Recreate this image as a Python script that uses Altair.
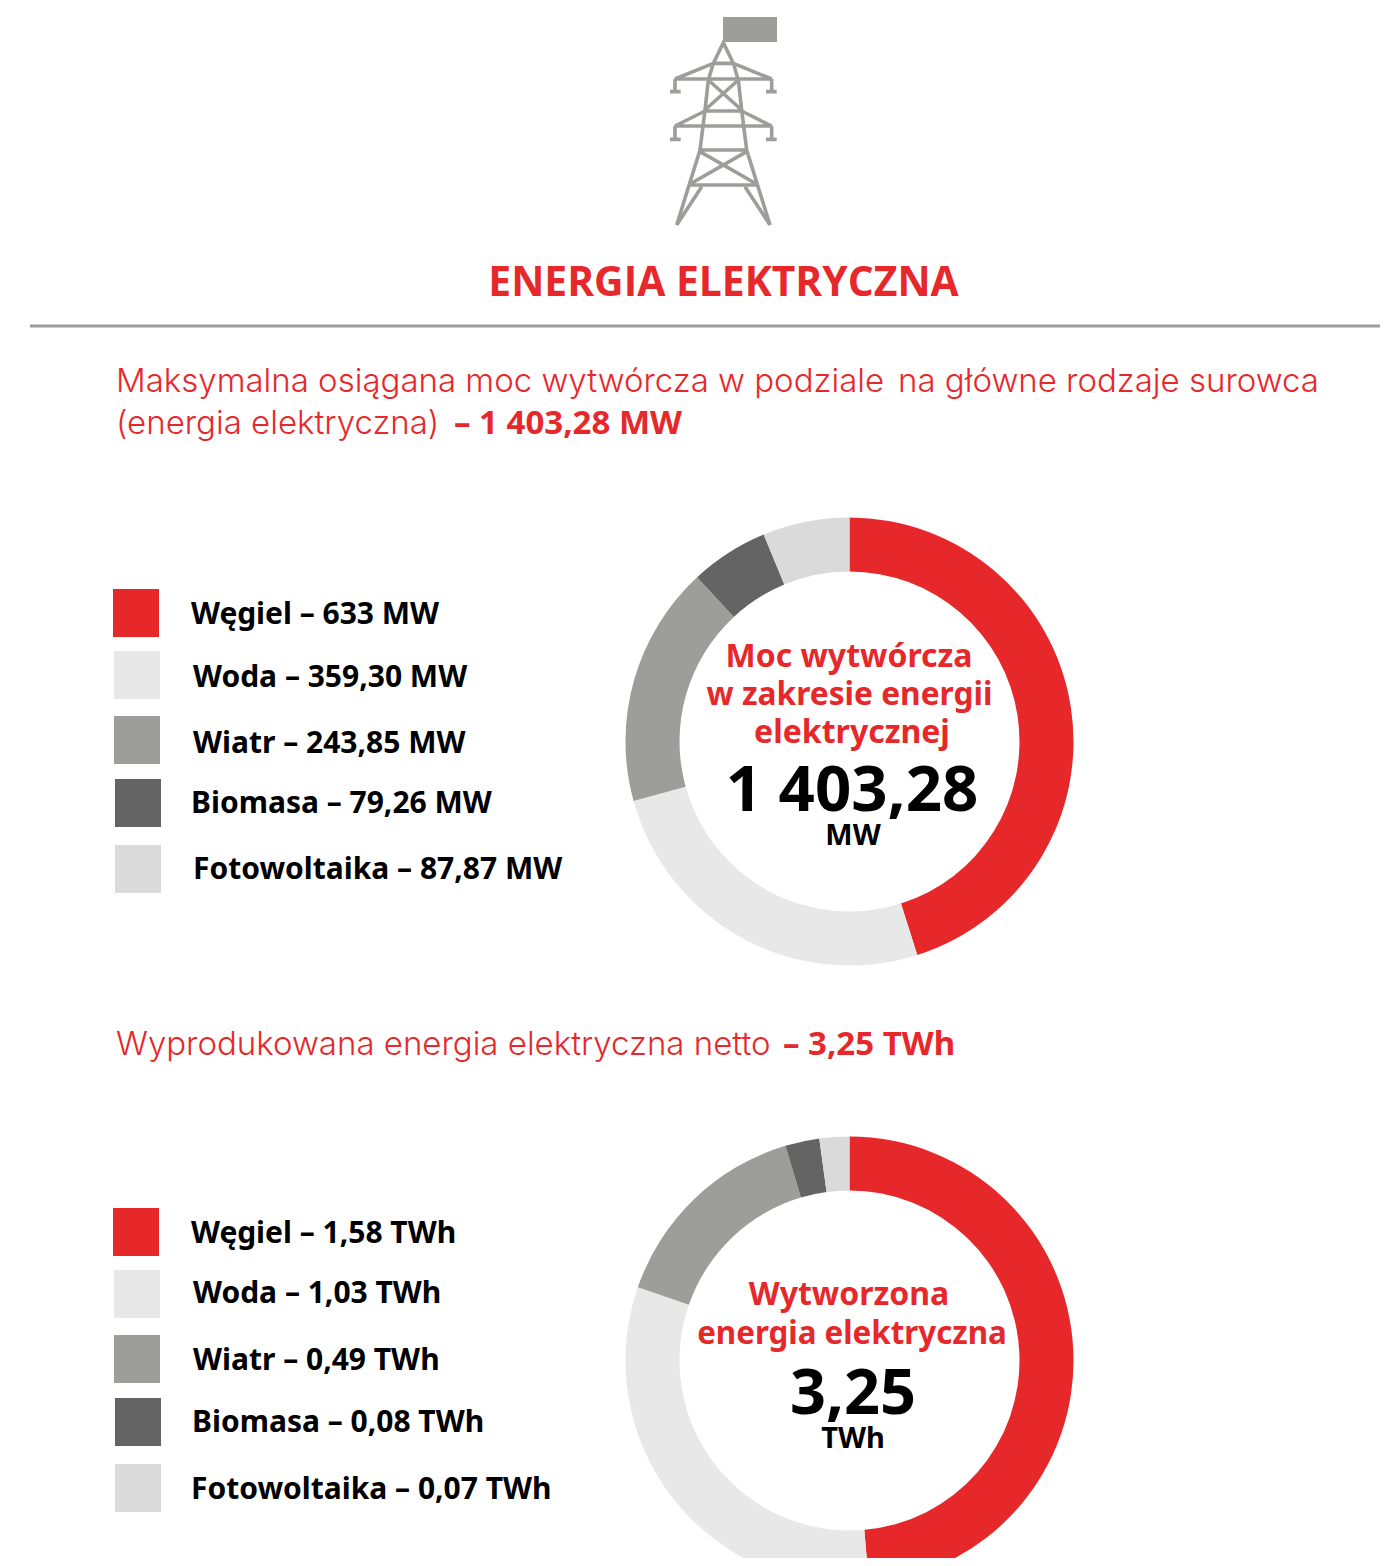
import altair as alt
import pandas as pd

# ---- data ----
categories = ["Węgiel", "Woda", "Wiatr", "Biomasa", "Fotowoltaika"]
moc_values = [633, 359.30, 243.85, 79.26, 87.87]
moc_labels = ["633 MW", "359,30 MW", "243,85 MW", "79,26 MW", "87,87 MW"]
energia_values = [1.58, 1.03, 0.49, 0.08, 0.07]
energia_labels = ["1,58 TWh", "1,03 TWh", "0,49 TWh", "0,08 TWh", "0,07 TWh"]
colors = ["#E6282B", "#E8E8E8", "#9D9D9C", "#646464", "#DADADA"]

RED = "#E6282B"
GREY = "#9D9D9C"
OFF = 8  # page margin


def px(v):
    return alt.value(v - OFF)


def text(t, x, y, size, color="#000000", font="Noto Sans", weight="bold", align="left"):
    return (
        alt.Chart(pd.DataFrame({"t": [t]}))
        .mark_text(font=font, fontSize=size, fontWeight=weight, color=color, align=align, baseline="alphabetic")
        .encode(text="t:N", x=px(x), y=px(y))
    )


def rect(x, x2, y, y2, color):
    return (
        alt.Chart(pd.DataFrame({"c": [color]}))
        .mark_rect(color=color)
        .encode(x=px(x), x2=px(x2), y=px(y), y2=px(y2))
    )


def donut(values, cx, cy):
    df = pd.DataFrame({"cat": categories, "v": values, "i": list(range(len(values)))})
    return (
        alt.Chart(df)
        .mark_arc(innerRadius=170, outerRadius=224)
        .encode(
            theta=alt.Theta("v:Q", stack=True, scale=alt.Scale(domain=[0, sum(values)])),
            order=alt.Order("i:O"),
            color=alt.Color("cat:N", scale=alt.Scale(domain=categories, range=colors), legend=None),
            x=px(cx),
            y=px(cy),
        )
    )


# ---- pylon icon, drawn as one stroked symbol ----
pylon_lines = [
    [(80, 645), (150, 420), (165, 300), (175, 210), (190, 160), (220, 98), (250, 160), (265, 210), (275, 300), (290, 420), (360, 645)],
    [(190, 160), (250, 160)],
    [(190, 160), (75, 207), (365, 207), (250, 160)],
    [(75, 207), (75, 245)], [(60, 245), (92, 245)],
    [(365, 207), (365, 245)], [(348, 245), (380, 245)],
    [(175, 210), (275, 300)], [(265, 210), (165, 300)],
    [(165, 303), (275, 303)],
    [(165, 303), (75, 348), (365, 348), (275, 303)],
    [(75, 348), (75, 388)], [(60, 388), (92, 388)],
    [(365, 348), (365, 388)], [(348, 388), (380, 388)],
    [(150, 420), (290, 420)],
    [(150, 425), (325, 525)], [(290, 425), (115, 525)],
    [(115, 525), (325, 525)],
    [(155, 530), (80, 645)], [(285, 530), (360, 645)],
]
CX, CY, S = 723.5, 120.0, 120.0


def to_path(lines):
    parts = []
    for line in lines:
        pts = [((650 + a / 3 - CX) / S, (10 + b / 3 - CY) / S) for a, b in line]
        parts.append("M" + "L".join(f"{x:.4f},{y:.4f}" for x, y in pts))
    return "".join(parts)


pylon = (
    alt.Chart(pd.DataFrame({"k": ["pylon"]}))
    .mark_point(shape=to_path(pylon_lines), size=(2 * S) ** 2, filled=False, stroke=GREY, strokeWidth=3.6, opacity=1)
    .encode(x=px(CX), y=px(CY))
)
flag = rect(723, 777, 17, 42, GREY)

rule = alt.Chart(pd.DataFrame({"k": [0]})).mark_rule(color=GREY, strokeWidth=3).encode(
    x=px(30), x2=px(1388), y=px(326)
)

LIGHT = dict(font="Inter", weight=300)
layers = [
    pylon, flag,
    text("ENERGIA ELEKTRYCZNA", 723.5, 296, 40.8, RED, font="Open Sans", align="center"),
    rule,
    text("Maksymalna osiągana moc wytwórcza w podziale", 116, 392, 33, RED, **LIGHT),
    text("na główne rodzaje surowca", 898, 392, 33, RED, **LIGHT),
    text("(energia elektryczna)", 116, 434, 33, RED, **LIGHT),
    text("– 1 403,28 MW", 454, 434, 33, RED),
    text("Wyprodukowana energia elektryczna netto", 116, 1055, 33, RED, **LIGHT),
    text("– 3,25 TWh", 783, 1055, 33, RED),
    donut(moc_values, 849.5, 741.5),
    donut(energia_values, 849.5, 1360.5),
]

top_rects = [(113, 589), (114, 651), (114, 716), (115, 779), (115, 845)]
top_text = [(191, 624), (193, 687), (193, 753), (191, 813), (193, 879)]
bot_rects = [(113, 1208), (114, 1270), (114, 1335), (115, 1398), (115, 1464)]
bot_text = [(191, 1243), (193, 1303), (193, 1370), (192, 1432), (191, 1499)]
for rects, texts, labels in [(top_rects, top_text, moc_labels), (bot_rects, bot_text, energia_labels)]:
    for (rx, ry), (tx, ty), cat, lab, col in zip(rects, texts, categories, labels, colors):
        layers.append(rect(rx, rx + 46, ry, ry + 48, col))
        layers.append(text(f"{cat} – {lab}", tx, ty, 30))

layers += [
    text("Moc wytwórcza", 849, 667, 32, RED, align="center"),
    text("w zakresie energii", 849.5, 705, 31.7, RED, align="center"),
    text("elektrycznej", 852, 743, 32, RED, align="center"),
    text("1 403,28", 852, 811, 63.5, align="center"),
    text("MW", 853, 845, 29, align="center"),
    text("Wytworzona", 849, 1305, 32, RED, align="center"),
    text("energia elektryczna", 852, 1344, 31.3, RED, align="center"),
    text("3,25", 853, 1414, 63, align="center"),
    text("TWh", 853, 1448, 29, align="center"),
]

chart = (
    alt.layer(*layers)
    .resolve_scale(theta="independent")
    .properties(width=1372, height=1550, padding=0, autosize=alt.AutoSizeParams(type="none"))
    .configure_view(stroke=None)
)
chart.save("out.html", embed_options={"renderer": "svg", "actions": False})
